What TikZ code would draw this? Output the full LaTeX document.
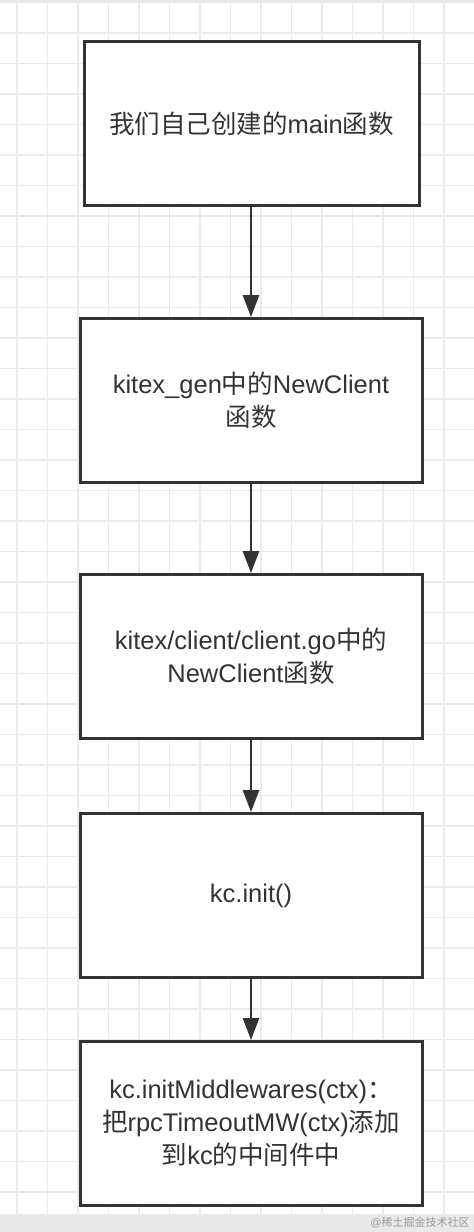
\documentclass[tikz,border=0pt]{standalone}
\usepackage{fontspec}
\setmainfont{Liberation Sans}
\newfontfamily\cjk{Noto Sans CJK SC}
\usetikzlibrary{arrows.meta, positioning}
\definecolor{gridLine}{HTML}{EBEBEB}
\definecolor{boxStroke}{HTML}{333333}
\definecolor{bandFill}{HTML}{E9E9E9}
\definecolor{markText}{HTML}{9A9A9A}

\begin{document}
\begin{tikzpicture}[
    % Global Styles
    x=1pt, y=1pt,
    font=\fontsize{25.5}{33}\selectfont,
    line width=3pt,
    % Node Styles
    stepbox/.style={
        rectangle,
        draw=boxStroke,
        fill=white,
        text=boxStroke,
        align=center,
        minimum width=342pt,
        minimum height=164pt,
        inner sep=4pt
    },
    % Arrow Style
    arrow/.style={
        -{Triangle[length=22pt, width=16pt]},
        draw=boxStroke,
        line width=2.8pt
    },
    gridline/.style={draw=gridLine, line width=1.5pt}
]

    % --- Background ---
    \useasboundingbox (0,0) rectangle (474,-1232);
    \fill[white] (0,0) rectangle (474,-1232);
    \foreach \gx in {0,...,15}
        \draw[gridline] (17+30.5*\gx,-3) -- (17+30.5*\gx,-1214);
    \foreach \gy in {0,...,38}
        \draw[gridline] (0,-33-30.5*\gy) -- (474,-33-30.5*\gy);
    \fill[bandFill] (0,0) rectangle (474,-3);
    \fill[bandFill] (0,-1214) rectangle (474,-1232);
    \node[anchor=east, text=markText, font=\fontsize{11}{13}\selectfont, inner sep=0pt]
        (mark) at (471,-1223) {@{\cjk 稀土掘金技术社区}};

    % --- Nodes ---

    % 1. main
    \node[stepbox, minimum width=335pt] (mainfn) at (251.5,-123.5)
        {{\cjk 我们自己创建的}main{\cjk 函数}};

    % 2. kitex_gen
    \node[stepbox, below=110pt of mainfn.south, anchor=north, xshift=-0.5pt] (gennew)
        {kitex\_gen{\cjk 中的}NewClient\\{\cjk 函数}};

    % 3. client.go
    \node[stepbox, below=89pt of gennew] (clientnew)
        {kitex/client/client.go{\cjk 中的}\\NewClient{\cjk 函数}};

    % 4. kc.init
    \node[stepbox, below=72pt of clientnew] (kcinit) {kc.init()};

    % 5. middlewares
    \node[stepbox, below=61pt of kcinit] (kcmw)
        {kc.initMiddlewares(ctx){\cjk ：}\\{\cjk 把}rpcTimeoutMW(ctx){\cjk 添加}\\{\cjk 到}kc{\cjk 的中间件中}};

    % --- Edges ---
    \draw[arrow] (mainfn.south -| gennew.north) -- (gennew.north);
    \draw[arrow] (gennew) -- (clientnew);
    \draw[arrow] (clientnew) -- (kcinit);
    \draw[arrow] (kcinit) -- (kcmw);

\end{tikzpicture}
\end{document}
